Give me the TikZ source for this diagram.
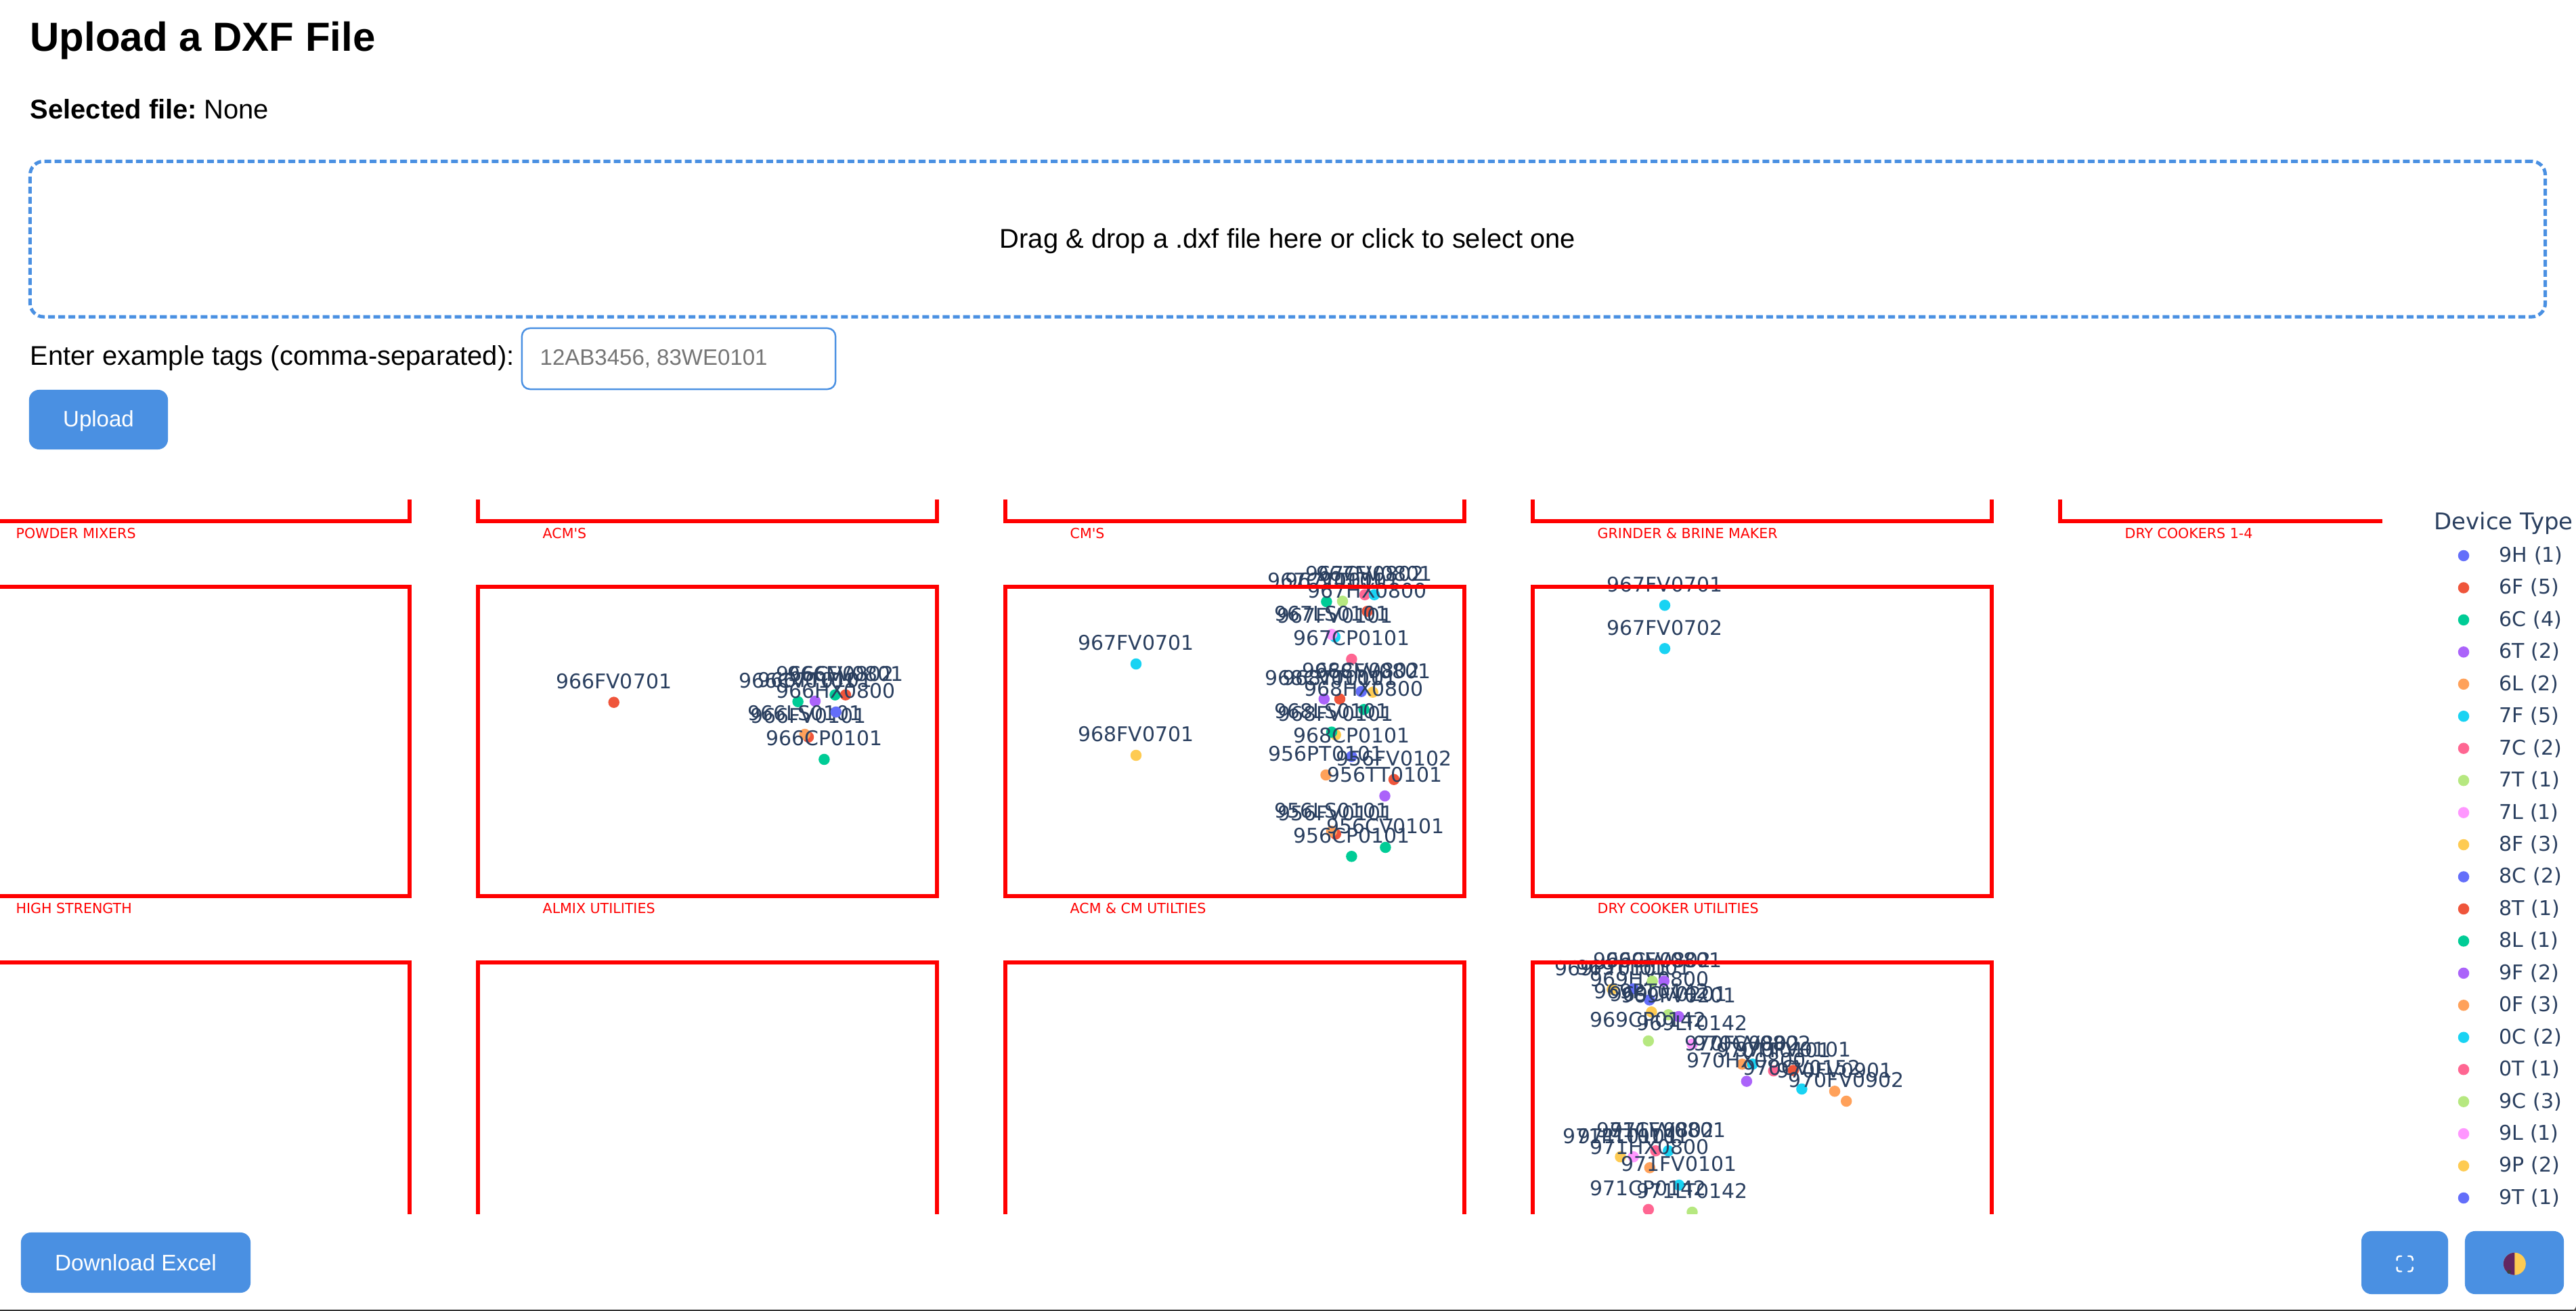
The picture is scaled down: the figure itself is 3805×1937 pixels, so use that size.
\documentclass[tikz,border=0pt]{standalone}
\usepackage{fontspec}
\setmainfont{Liberation Sans}
\newfontfamily\plotfont{DejaVu Sans}
\definecolor{UploadBlue}{HTML}{4A90E2}
\definecolor{PlotInk}{HTML}{2A3F5F}
\definecolor{TraceBlue}{HTML}{636EFA}
\definecolor{TraceRed}{HTML}{EF553B}
\definecolor{TraceGreen}{HTML}{00CC96}
\definecolor{TracePurple}{HTML}{AB63FA}
\definecolor{TraceOrange}{HTML}{FFA15A}
\definecolor{TraceCyan}{HTML}{19D3F3}
\definecolor{TracePink}{HTML}{FF6692}
\definecolor{TraceLime}{HTML}{B6E880}
\definecolor{TraceLilac}{HTML}{FF97FF}
\definecolor{TraceYellow}{HTML}{FECB52}
\tikzset{
  pagetext/.style={inner sep=0pt,anchor=base west,font=\fontsize{11.36pt}{13pt}\selectfont},
  bluebutton/.style={fill=UploadBlue,rounded corners=4.2pt},
  buttontext/.style={inner sep=0pt,white},
  zonebox/.style={draw=red,line width=1.55pt},
  zonetext/.style={inner sep=0pt,anchor=base west,red,font=\plotfont\fontsize{5.85pt}{7pt}\selectfont},
  tagdot/.style={circle,inner sep=0pt,minimum size=4.7pt},
  taglabel/.style={inner sep=0pt,PlotInk,font=\plotfont\fontsize{8.5pt}{10pt}\selectfont},
  legendtext/.style={inner sep=0pt,PlotInk,font=\plotfont\fontsize{8.55pt}{10pt}\selectfont},
}
\begin{document}
\begin{tikzpicture}[x=0.01cm,y=-0.01cm]
\useasboundingbox (0,0) rectangle (3805,1937);
\node[pagetext,font=\fontsize{17.05pt}{20pt}\selectfont\bfseries] (pagetitle) at (44,76) {Upload a DXF File};
\node[pagetext] (selected) at (44,176) {\textbf{Selected file:}\kern-1.3pt{} None};
\node[draw=UploadBlue,line width=1.42pt,dash pattern=on 2.85pt off 1.42pt,rounded corners=5.7pt,minimum width=37.13cm,minimum height=2.296cm] (dropzone) at (1902,353.2) {};
\node[inner sep=0pt,font=\fontsize{11.36pt}{13pt}\selectfont] (droptext) at (1902,356) {Drag \& drop a .dxf file here or click to select one};
\node[pagetext] (taglead) at (44,540) {Enter example tags (comma-separated):};
\node[draw=UploadBlue,line width=0.7pt,rounded corners=3.4pt,minimum width=4.63cm,minimum height=0.9cm] (taginput) at (1002.5,530) {};
\node[pagetext,text=black!54,font=\fontsize{9.39pt}{11pt}\selectfont] (tagplace) at (797,540) {12AB3456, 83WE0101};
\node[bluebutton,minimum width=2.05cm,minimum height=0.88cm] (uploadbtn) at (145.5,620) {};
\node[buttontext,font=\fontsize{9.39pt}{11pt}\selectfont] (uploadtext) at (145.5,621.5) {Upload};

\begin{scope}
\clip (0,739) rectangle (3805,1793);
\foreach \px/\py/\col/\tagname [count=\n] in {
  906.7/1037.7/TraceRed/966FV0701,1178.6/1036.7/TraceGreen/966CV0101,1204/1036/TracePurple/966TT0101,
  1233.5/1026.7/TraceGreen/966CV0802,1249/1026.7/TraceRed/966FV0801,1194/1089/TraceRed/966FV0101,
  1188.8/1085/TraceOrange/966LS0101,1234.8/1052/TraceBlue/966HX0800,1217.4/1122/TraceGreen/966CP0101,
  1678/981/TraceCyan/967FV0701,1959.4/889/TraceGreen/967CV0101,1983/888.3/TraceLime/967TT0101,
  2016/878.7/TracePink/967CV0802,2030/878.7/TraceCyan/967FV0801,2019.6/903.3/TraceRed/967HX0800,
  1972/941/TraceCyan/967FV0101,1967/937.3/TraceLilac/967LS0101,1996.4/974/TracePink/967CP0101,
  1678/1116/TraceYellow/968FV0701,1955.8/1032.7/TracePurple/968CV0101,1979/1032.7/TraceRed/968TT0101,
  2010.7/1021.7/TraceBlue/968CV0802,2027.7/1022.7/TraceYellow/968FV0801,2014.7/1048.3/TraceGreen/968HX0800,
  1972.8/1085.7/TraceYellow/968FV0101,1967/1081.7/TraceGreen/968LS0101,1996.4/1117.7/TraceBlue/968CP0101,
  1958.5/1145/TraceOrange/956PT0101,2059/1151.7/TraceRed/956FV0102,2045.5/1176/TracePurple/956TT0101,
  1972.8/1232.3/TraceRed/956FV0101,1967/1228.3/TraceOrange/956LS0101,2046.4/1252/TraceGreen/956CV0101,
  1996.4/1265.3/TraceGreen/956CP0101,
  2459/894.3/TraceCyan/967FV0701,2459/958.3/TraceCyan/967FV0702,
  2436.4/1477.4/TraceBlue/969HX0800,2381.3/1461.6/TraceYellow/969PT0101,2412.6/1461/TraceBlue/969TT0101,
  2440.6/1449.7/TraceLime/969CV0802,2457.8/1449.7/TracePurple/969FV0801,2439.4/1495.2/TraceYellow/969PT0142,
  2464.3/1499.3/TraceLime/969CV0201,2479.6/1502/TracePurple/969FV0201,2434.8/1538/TraceLime/969CP0142,
  2499.5/1542.8/TraceLilac/969LT0142,
  2573.4/1572.3/TraceOrange/970FV0802,2588.7/1572.3/TraceCyan/970CV0802,2619.7/1582.2/TracePink/970TT0101,
  2648.8/1581.5/TraceRed/970FV0101,2579.9/1597.6/TracePurple/970HX0800,2661.4/1609/TraceCyan/970CV0152,
  2710/1612.3/TraceOrange/970FV0901,2727.2/1627/TraceOrange/970FV0902,
  2393.5/1709.2/TraceYellow/971PT0101,2412.6/1709.2/TraceLilac/971LT0101,2445.6/1700.3/TracePink/971CV0802,
  2464.3/1700.3/TraceCyan/971FV0801,2436.8/1725.3/TraceOrange/971HX0800,2480/1751/TraceCyan/971FV0101,
  2434.8/1787/TracePink/971CP0142,2499.5/1791/TraceLime/971LT0142}
{
  \node[tagdot,fill=\col] (dot\n) at (\px,\py) {};
  \node[taglabel] (tag\n) at (\px,\py-31) {\tagname};
}
\foreach \cx in {-73,706,1485,2264}
{
  \draw[zonebox] (\cx,700) |- (\cx+678,770) -- (\cx+678,700);
  \draw[zonebox] (\cx,867) rectangle (\cx+678,1324);
  \draw[zonebox] (\cx,1422) rectangle (\cx+678,1900);
}
\draw[zonebox] (3043,700) |- (3519,770);
\foreach \lx/\ly/\zone [count=\n] in {
  23/796/POWDER MIXERS,801/796/ACM'S,1580/796/CM'S,2359/796/GRINDER \& BRINE MAKER,3138/796/DRY COOKERS 1-4,
  23/1349/HIGH STRENGTH,801/1349/ALMIX UTILITIES,1580/1349/ACM \& CM UTILTIES,2359/1349/DRY COOKER UTILITIES}
{
  \node[zonetext] (zone\n) at (\lx,\ly) {\zone};
}
\end{scope}

\node[inner sep=0pt,anchor=west,PlotInk,font=\plotfont\fontsize{9.65pt}{11pt}\selectfont] (legendtitle) at (3595,773) {Device Type};
\foreach \lab/\col [count=\n from 0] in {9H (1)/TraceBlue,6F (5)/TraceRed,6C (4)/TraceGreen,6T (2)/TracePurple,6L (2)/TraceOrange,
  7F (5)/TraceCyan,7C (2)/TracePink,7T (1)/TraceLime,7L (1)/TraceLilac,8F (3)/TraceYellow,8C (2)/TraceBlue,8T (1)/TraceRed,
  8L (1)/TraceGreen,9F (2)/TracePurple,0F (3)/TraceOrange,0C (2)/TraceCyan,0T (1)/TracePink,9C (3)/TraceLime,9L (1)/TraceLilac,
  9P (2)/TraceYellow,9T (1)/TraceBlue}
{
  \pgfmathsetmacro\rowy{821+47.45*\n}
  \node[tagdot,fill=\col] (legdot\n) at (3639,\rowy) {};
  \node[legendtext,anchor=west] (legtext\n) at (3691,\rowy) {\lab};
}

\node[bluebutton,minimum width=3.39cm,minimum height=0.89cm] (excelbtn) at (200.5,1865.5) {};
\node[buttontext,font=\fontsize{9.47pt}{12pt}\selectfont] (exceltext) at (excelbtn.center) {Download Excel};
\node[bluebutton,minimum width=1.28cm,minimum height=0.93cm] (fullbtn) at (3552,1865.5) {};
\node[bluebutton,minimum width=1.46cm,minimum height=0.93cm] (themebtn) at (3714,1865.5) {};
\draw[white,line width=0.7pt,line cap=round,rounded corners=1pt]
  (3547,1856) -- (3540.5,1856) -- (3540.5,1862)
  (3557,1856) -- (3563.5,1856) -- (3563.5,1862)
  (3547,1878.5) -- (3540.5,1878.5) -- (3540.5,1872.5)
  (3557,1878.5) -- (3563.5,1878.5) -- (3563.5,1872.5);
\fill[TraceYellow] (3714.3,1867.3) circle (16.5);
\fill[violet!55!black!85!white] (3714.3,1850.8) arc[start angle=-90,delta angle=-180,radius=16.5] -- cycle;
\fill[black!75] (3706,1879) circle (3);
\draw[black!80,line width=0.5pt] (0,1936.3) -- (3805,1936.3);
\fill[black!70] (3805,1930) -- (3805,1937) -- (3798,1937) .. controls (3802,1936) and (3804,1934) .. cycle;
\end{tikzpicture}
\end{document}
